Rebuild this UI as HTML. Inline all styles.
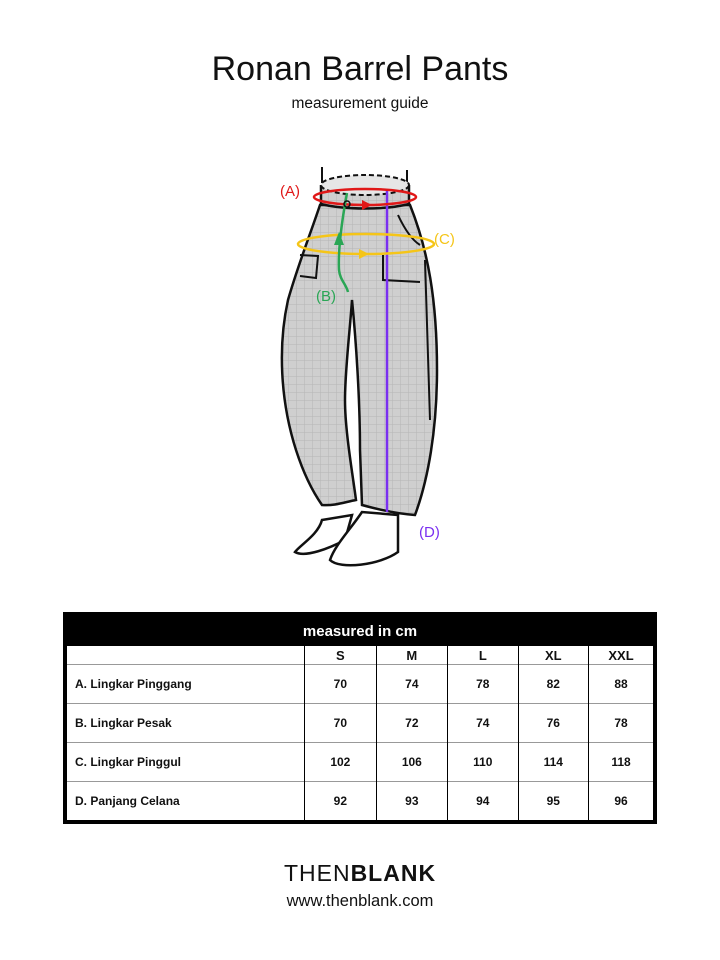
<!DOCTYPE html>
<html><head><meta charset="utf-8"><style>
body{margin:0;width:720px;height:960px;background:#fff;font-family:"Liberation Sans",sans-serif;position:relative;overflow:hidden}
.t{position:absolute;left:0;width:720px;text-align:center;color:#111}
table{position:absolute;left:63px;top:612px;width:594px;border-collapse:collapse;border:4px solid #000;font-size:12px;font-weight:bold;color:#111;table-layout:fixed}
td{height:38px;border-top:1px solid #999;text-align:center;padding:0}
td+td{border-left:1px solid #000}
td:first-child{text-align:left;padding-left:8px}
.hd td{background:#000;color:#fff;font-size:15px;height:30px;border:none}
.sz td{height:18px;font-size:13px;border-top:none}
</style></head><body>
<div class="t" style="top:50px;font-size:34px;">Ronan Barrel Pants</div>
<div class="t" style="top:95px;font-size:15.5px;">measurement guide</div>
<svg width="720" height="600" style="position:absolute;left:0;top:0">
<defs><pattern id="g" width="8" height="8" patternUnits="userSpaceOnUse"><rect width="8" height="8" fill="#cfcfcf"/><path d="M0 0H8M0 0V8" stroke="#b5b5b5" stroke-width="1"/></pattern></defs>
<g stroke="#111" stroke-width="2.5" fill="#fff">
<path d="M322 520 C318 535 300 545 295 552 C305 558 330 548 345 540 L352 515 Z"/>
<path d="M362 512 C350 530 335 545 330 560 C340 570 380 565 398 552 L398 515 Z"/>
</g>
<path d="M320 205 C310 235 298 265 288 300 C278 345 280 400 296 450 C305 478 315 495 322 505 C335 506 345 502 356 500 C352 470 345 430 345 400 C345 370 350 330 352 300 C356 340 360 400 360 450 L362 505 C380 510 400 514 415 515 C428 480 437 430 437 370 C437 300 428 250 410 205 Z" fill="url(#g)" stroke="#111" stroke-width="2.5"/>
<path d="M322 183 L322 167 M407 186 L407 170" stroke="#111" stroke-width="2"/>
<path d="M321 185 L321 204 C345 210 385 210 409 204 L409 185" fill="url(#g)" stroke="#111" stroke-width="2.5"/>
<ellipse cx="365" cy="185" rx="44" ry="10" fill="#e6e6e6" stroke="#111" stroke-width="2" stroke-dasharray="5 3"/>
<path d="M300 255 L318 256 L316 278 L300 276 M383 255 L383 280 L420 282 M398 215 C405 230 412 240 420 245 M425 260 L430 420" fill="none" stroke="#111" stroke-width="2"/>
<path d="M387 190 L387 512" stroke="#7a2ff0" stroke-width="2.5"/>
<ellipse cx="365" cy="197" rx="51" ry="8" fill="none" stroke="#e01818" stroke-width="2.5"/>
<path d="M362 200 L372 205 L362 210 Z" fill="#e01818"/>
<ellipse cx="366" cy="244" rx="68" ry="10" fill="none" stroke="#f5c518" stroke-width="2.5"/>
<path d="M359 249 L369 254 L359 259 Z" fill="#f5c518"/>
<path d="M347 193 C342 220 338 250 339 270 C340 280 346 284 348 292" fill="none" stroke="#2aa655" stroke-width="2.5"/>
<path d="M334 245 L339 232 L344 245 Z" fill="#2aa655"/>
<circle cx="347" cy="204" r="3" fill="none" stroke="#111" stroke-width="1.5"/>
<g font-family="Liberation Sans, sans-serif" font-size="15">
<text x="280" y="196" fill="#e01818">(A)</text>
<text x="434" y="244" fill="#f5c518">(C)</text>
<text x="316" y="301" fill="#2aa655">(B)</text>
<text x="419" y="537" fill="#7a2ff0">(D)</text>
</g>
</svg>
<table>
<colgroup><col style="width:238px"><col style="width:71px"><col style="width:71px"><col style="width:70px"><col style="width:70px"><col style="width:66px"></colgroup>
<tr class="hd"><td colspan="6" style="text-align:center;padding:0">measured in cm</td></tr>
<tr class="sz"><td></td><td>S</td><td>M</td><td>L</td><td>XL</td><td>XXL</td></tr>
<tr><td>A. Lingkar Pinggang</td><td>70</td><td>74</td><td>78</td><td>82</td><td>88</td></tr>
<tr><td>B. Lingkar Pesak</td><td>70</td><td>72</td><td>74</td><td>76</td><td>78</td></tr>
<tr><td>C. Lingkar Pinggul</td><td>102</td><td>106</td><td>110</td><td>114</td><td>118</td></tr>
<tr><td>D. Panjang Celana</td><td>92</td><td>93</td><td>94</td><td>95</td><td>96</td></tr>
</table>
<div class="t" style="top:860px;font-size:23px;letter-spacing:1px;">THEN<b>BLANK</b></div>
<div class="t" style="top:892px;font-size:16.5px;">www.thenblank.com</div>
</body></html>
